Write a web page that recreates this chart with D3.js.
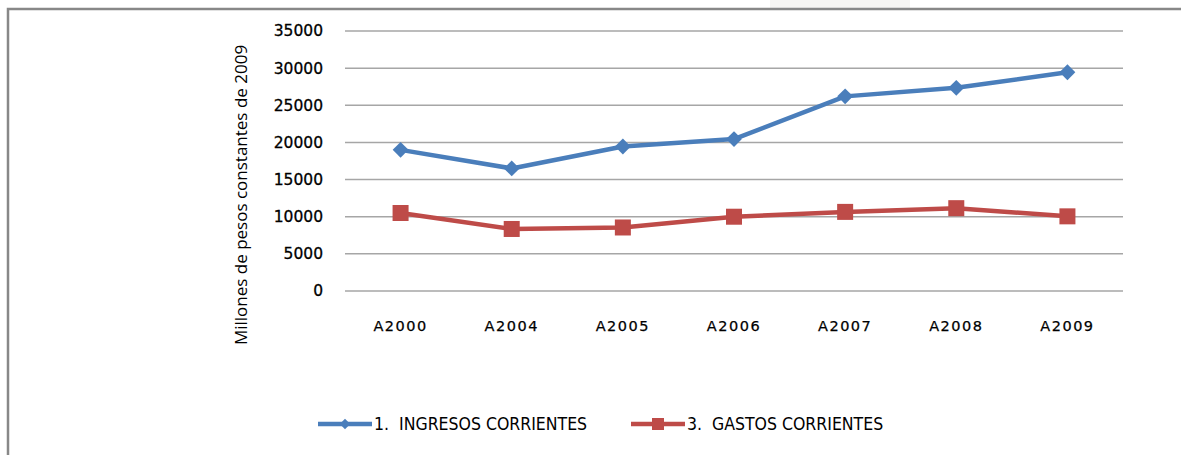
<!DOCTYPE html>
<html>
<head>
<meta charset="utf-8">
<script src="https://cdn.jsdelivr.net/npm/d3@7"></script>
<style>
  body { margin: 0; background: #fff; }
  svg { display: block; }
</style>
</head>
<body>
<div id="chart"></div>
<script>
// Data
const categories = ["A2000", "A2004", "A2005", "A2006", "A2007", "A2008", "A2009"];
const ingresos = [19000, 16500, 19450, 20450, 26200, 27350, 29450];
const gastos = [10500, 8350, 8550, 10000, 10650, 11150, 10050];
const yTicks = [0, 5000, 10000, 15000, 20000, 25000, 30000, 35000];
const seriesNames = ["1.  INGRESOS CORRIENTES", "3.  GASTOS CORRIENTES"];

const width = 1181;
const height = 455;

const svg = d3.select("#chart")
    .append("svg")
    .attr("width", width)
    .attr("height", height);

// faint page shading at top
svg.append("rect")
    .attr("x", 770).attr("y", 0).attr("width", 140).attr("height", 9)
    .attr("fill", "#f6f5f3");

// chart frame
svg.append("path")
    .attr("d", `M8,${height} L8,9 L${width},9`)
    .attr("fill", "none")
    .attr("stroke", "#888")
    .attr("stroke-width", 2.5);

const x = d3.scaleBand()
    .domain(categories)
    .range([345, 1123]);

const y = d3.scaleLinear()
    .domain([0, 35000])
    .range([291, 31]);

// gridlines
svg.append("g")
    .selectAll("line")
    .data(yTicks)
    .join("line")
    .attr("x1", 345)
    .attr("x2", 1123)
    .attr("y1", d => y(d))
    .attr("y2", d => y(d))
    .attr("stroke", "#a6a6a6")
    .attr("stroke-width", 1.5);

// y axis labels
const yAxis = svg.append("g")
    .attr("transform", "translate(323,0)")
    .call(d3.axisLeft(y).tickValues(yTicks).tickSize(0).tickPadding(0).tickFormat(d3.format("d")));
yAxis.select(".domain").remove();
yAxis.selectAll("text")
    .style("font-family", "DejaVu Sans")
    .style("font-size", "15.5px")
    .style("stroke", "#000")
    .style("stroke-width", 0.3)
    .style("fill", "#000");

// x axis labels
const xAxis = svg.append("g")
    .attr("transform", "translate(0,331)")
    .call(d3.axisBottom(x).tickSize(0).tickPadding(0));
xAxis.select(".domain").remove();
xAxis.selectAll("text")
    .style("font-family", "DejaVu Sans")
    .style("font-size", "14.5px")
    .style("letter-spacing", "1.5px")
    .style("stroke", "#000")
    .style("stroke-width", 0.25)
    .style("fill", "#000")
    .attr("dy", "0");

// y axis title
svg.append("text")
    .attr("transform", "translate(247,195) rotate(-90)")
    .attr("text-anchor", "middle")
    .style("font-family", "Open Sans")
    .style("font-size", "17px")
    .style("fill", "#000")
    .text("Millones de pesos constantes de 2009");

const line = d3.line()
    .x((d, i) => x(categories[i]) + x.bandwidth() / 2)
    .y(d => y(d));

const blue = "#4a7ebb";
const red = "#be4b48";

// series lines
svg.append("path")
    .datum(ingresos)
    .attr("d", line)
    .attr("fill", "none")
    .attr("stroke", blue)
    .attr("stroke-width", 4.5)
    .attr("stroke-linejoin", "round");

svg.append("path")
    .datum(gastos)
    .attr("d", line)
    .attr("fill", "none")
    .attr("stroke", red)
    .attr("stroke-width", 4.5)
    .attr("stroke-linejoin", "round");

const diamond = d3.symbol().type(d3.symbolSquare).size(125);

// markers
svg.append("g")
    .selectAll("path")
    .data(ingresos)
    .join("path")
    .attr("d", diamond)
    .attr("transform", (d, i) => `translate(${x(categories[i]) + x.bandwidth() / 2},${y(d)}) rotate(45)`)
    .attr("fill", blue);

svg.append("g")
    .selectAll("rect")
    .data(gastos)
    .join("rect")
    .attr("x", (d, i) => x(categories[i]) + x.bandwidth() / 2 - 8)
    .attr("y", d => y(d) - 8)
    .attr("width", 16)
    .attr("height", 16)
    .attr("fill", red);

// legend
const legendItems = [
    { name: seriesNames[0], color: blue, x: 318, marker: "diamond" },
    { name: seriesNames[1], color: red, x: 631, marker: "square" }
];
const legend = svg.append("g").attr("transform", "translate(0,424)");

legendItems.forEach(item => {
    legend.append("line")
        .attr("x1", item.x).attr("x2", item.x + 54)
        .attr("y1", 0).attr("y2", 0)
        .attr("stroke", item.color)
        .attr("stroke-width", 4.5);
    if (item.marker === "diamond") {
        legend.append("path")
            .attr("d", d3.symbol().type(d3.symbolSquare).size(55))
            .attr("transform", `translate(${item.x + 27},0) rotate(45)`)
            .attr("fill", item.color);
    } else {
        legend.append("rect")
            .attr("x", item.x + 21).attr("y", -6)
            .attr("width", 12).attr("height", 12)
            .attr("fill", item.color);
    }
    legend.append("text")
        .attr("x", item.x + 56)
        .attr("y", 0)
        .attr("dy", "0.35em")
        .style("font-family", "Liberation Sans Narrow, DejaVu Sans Condensed, sans-serif")
        .style("font-size", "17.5px")
        .style("fill", "#000")
        .style("white-space", "pre")
        .text(item.name);
});
</script>
</body>
</html>
